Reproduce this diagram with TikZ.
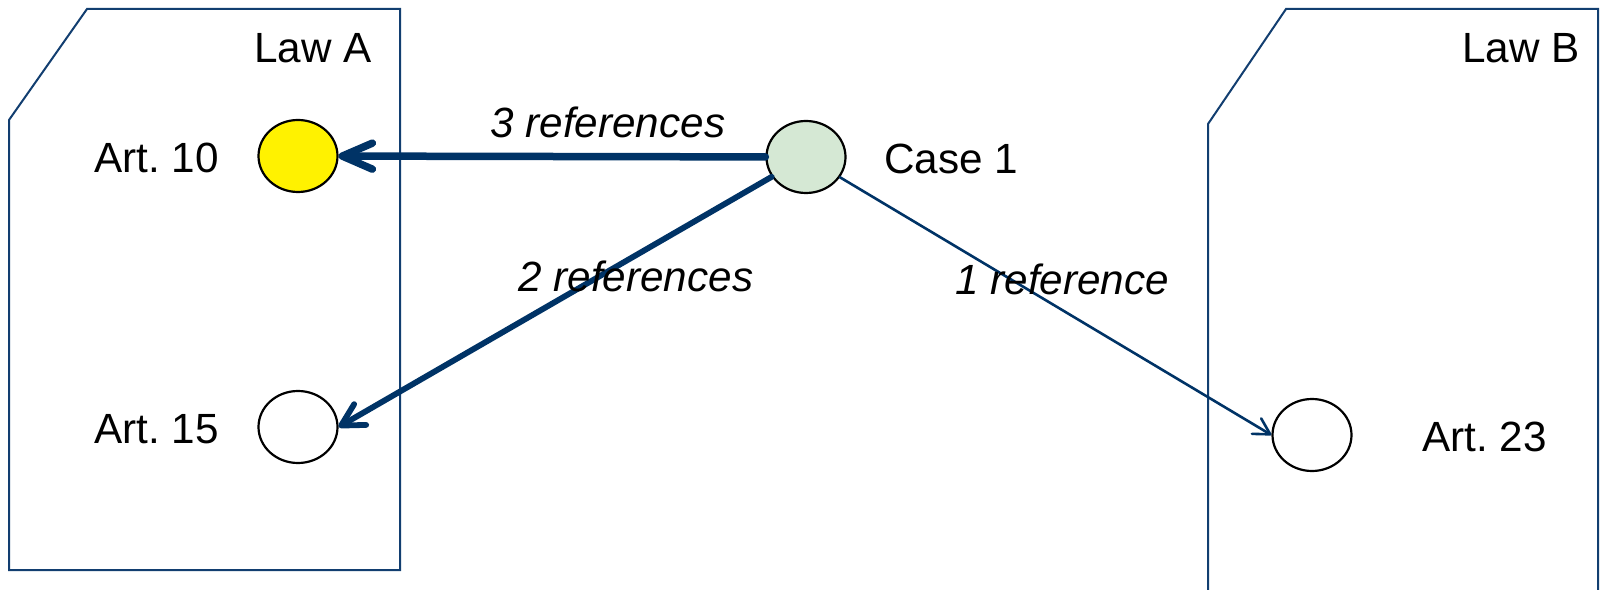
\documentclass[tikz,border=0pt]{standalone}
\usepackage{fontspec}
\setmainfont{Liberation Sans}
\usepackage{tikz}
\usetikzlibrary{arrows.meta,shapes.geometric}
\definecolor{navy}{RGB}{0,51,102}
\definecolor{docblue}{RGB}{18,62,112}
\definecolor{casegreen}{RGB}{213,232,212}
\frenchspacing

\begin{document}
\begin{tikzpicture}[x=0.5bp,y=-0.5bp,
    art/.style={ellipse,draw,line width=1.1bp,minimum width=39.5bp,minimum height=36bp,inner sep=0pt},
    txt/.style={anchor=base west,inner sep=0pt,font=\fontsize{21.2}{25}\selectfont},
    reflbl/.style={txt,font=\fontsize{21.2}{25}\selectfont\itshape},
    doc/.style={draw=docblue,line width=1bp},
    ref/.style={draw=navy,line cap=round}]
          \clip (0,0) rectangle (1603,590);
          \draw[doc] (9,120) -- (87,9) -- (400,9) -- (400,570) -- (9,570) -- cycle;
          \draw[doc] (1208,600) -- (1208,124) -- (1286,9) -- (1598,9) -- (1598,600);
          \node[txt] (lawa) at (254,63) {Law A};
          \node[txt] (lawb) at (1462,63) {Law B};
          \node[art,fill=yellow] (art10) at (298,156) {};
          \node[art] (art15) at (298,427) {};
          \node[art] (art23) at (1312,435) {};
          \node[art,fill=casegreen] (case1) at (806,157) {};
          \node[txt] (lbl10) at (94,173) {Art. 10};
          \node[txt] (lbl15) at (94,443) {Art. 15};
          \node[txt] (lbl23) at (1422,451) {Art. 23};
          \node[txt] (lblcase) at (884,174) {Case 1};
          \draw[ref,line width=3.75bp,-{Straight Barb[length=15bp,width=13bp,round]}] (case1) -- (art10);
          \draw[ref,line width=2.9bp,-{Straight Barb[length=11bp,width=12bp,round]}] (case1) -- (art15.east);
          \draw[ref,line width=1.3bp,-{Straight Barb[length=8bp,width=9bp,round]}] (case1) -- (art23.west);
          \node[reflbl] (refs3) at (490,138) {3 references};
          \node[reflbl] (refs2) at (518,292) {2 references};
          \node[reflbl] (refs1) at (955,295) {1 reference};
\end{tikzpicture}
\end{document}
